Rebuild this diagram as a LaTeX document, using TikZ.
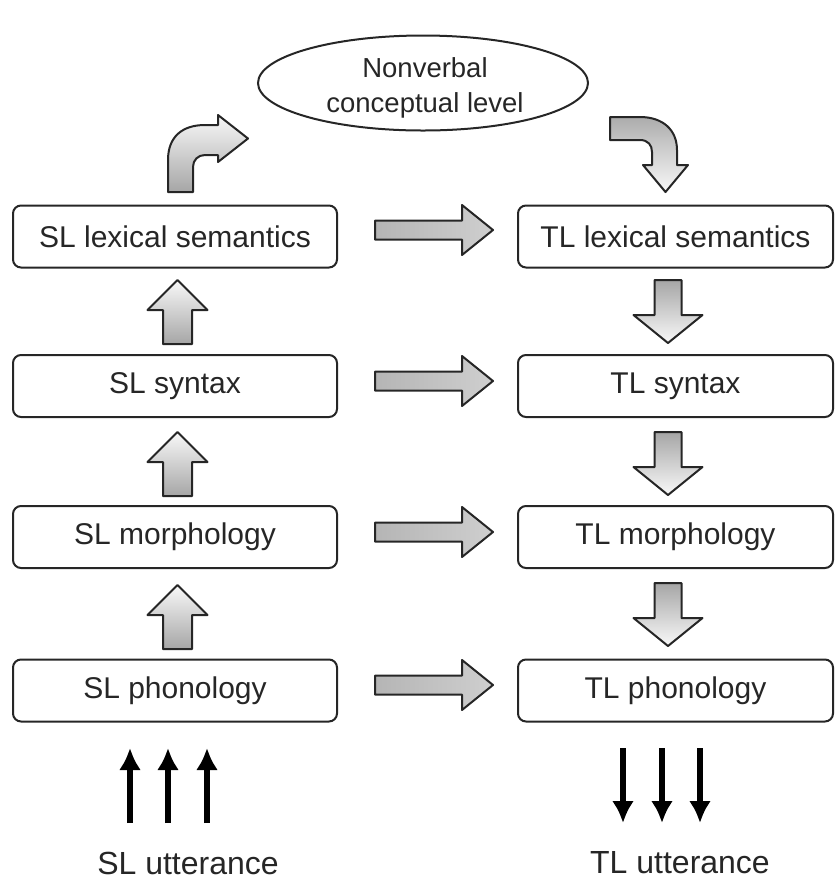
\documentclass[tikz,border=0pt]{standalone}
\usepackage{fontspec}
\setmainfont{Liberation Sans}
\usetikzlibrary{arrows.meta,shapes.geometric}
\tikzset{
  level/.style={draw=black!85, line width=1pt, rounded corners=4pt, inner sep=0pt,
    minimum height=31pt, text=black!85, font=\fontsize{15}{18}\selectfont},
  slbox/.style={level, minimum width=162pt},
  tlbox/.style={level, minimum width=157.5pt},
  blk/.style={draw=black!85, line width=1pt, line join=round},
  hblk/.style={blk, left color=gray!58, right color=gray!38},
  upblk/.style={blk, top color=gray!5, bottom color=gray!70},
  dnblk/.style={blk, top color=gray!70, bottom color=gray!5},
  thick arrow/.style={line width=3pt, -{Latex[length=11pt,width=11pt]}},
  lab/.style={text=black!85, font=\fontsize{16}{19}\selectfont}
}
\begin{document}
\begin{tikzpicture}[x=0.5pt,y=-0.5pt]
\useasboundingbox (0,0) rectangle (835,880);
% ellipse
\node[ellipse, draw=black!85, line width=1pt, minimum width=165pt, minimum height=47.5pt, inner sep=0pt,
  text=black!85, font=\fontsize{13.75}{17.5}\selectfont] (ncl) at (423,83) {};
\node[align=center, inner sep=0pt, text=black!85, font=\fontsize{13.75}{17.5}\selectfont]
  (ncltext) at (425,88) {Nonverbal\\conceptual level};
% boxes
\node[slbox] (sl1) at (175,236.5) {SL lexical semantics};
\node[slbox] (sl2) at (175,386) {SL syntax};
\node[slbox] (sl3) at (175,537) {SL morphology};
\node[slbox] (sl4) at (175,690.5) {SL phonology};
\node[tlbox] (tl1) at (675.5,236.5) {TL lexical semantics};
\node[tlbox] (tl2) at (675.5,386) {TL syntax};
\node[tlbox] (tl3) at (675.5,537) {TL morphology};
\node[tlbox] (tl4) at (675.5,690.5) {TL phonology};
% horizontal block arrows
\foreach \y in {230,381,532,685}{
  \path[hblk] (375,\y-9.5) -- (462,\y-9.5) -- (462,\y-25) -- (493,\y) -- (462,\y+25)
    -- (462,\y+9.5) -- (375,\y+9.5) -- cycle;
}
% up block arrows (SL side)
\foreach \t in {280,432,585}{
  \path[upblk] (177.5,\t) -- (207.5,\t+30) -- (192,\t+30) -- (192,\t+64) -- (163,\t+64)
    -- (163,\t+30) -- (147.5,\t+30) -- cycle;
}
% down block arrows (TL side)
\foreach \s in {280,432,583}{
  \path[dnblk] (654.5,\s) -- (681.5,\s) -- (681.5,\s+35) -- (702.5,\s+35) -- (668,\s+63)
    -- (633.5,\s+35) -- (654.5,\s+35) -- cycle;
}
% curved block arrow up-right
\path[blk, top color=gray!5, bottom color=gray!70]
  (168,192) -- (168,160) .. controls (168,137) and (182,125) .. (205,125) -- (218,125)
  -- (218,115) -- (248,138.5) -- (218,162) -- (218,155) -- (205,155)
  .. controls (198,155) and (193,160) .. (193,167) -- (193,192) -- cycle;
% curved block arrow right-down
\path[blk, top color=gray!65, bottom color=gray!5]
  (610,117) -- (640,117) .. controls (663,117) and (677,130) .. (677,150) -- (677,165)
  -- (688,165) -- (665.5,192) -- (643,165) -- (652,165) -- (652,152)
  .. controls (652,145) and (648,140) .. (640,140) -- (610,140) -- cycle;
% utterances
\node[lab] (slu) at (188,863) {SL utterance};
\node[lab] (tlu) at (680,863) {TL utterance};
\foreach \x in {130,168,207}{
  \coordinate (a\x) at (\x,823);
  \coordinate (b\x) at (\x,748);
  \draw[thick arrow] (a\x) -- (b\x);
}
\foreach \x in {623,662,700}{
  \coordinate (c\x) at (\x,748);
  \coordinate (d\x) at (\x,823);
  \draw[thick arrow] (c\x) -- (d\x);
}
\end{tikzpicture}
\end{document}
